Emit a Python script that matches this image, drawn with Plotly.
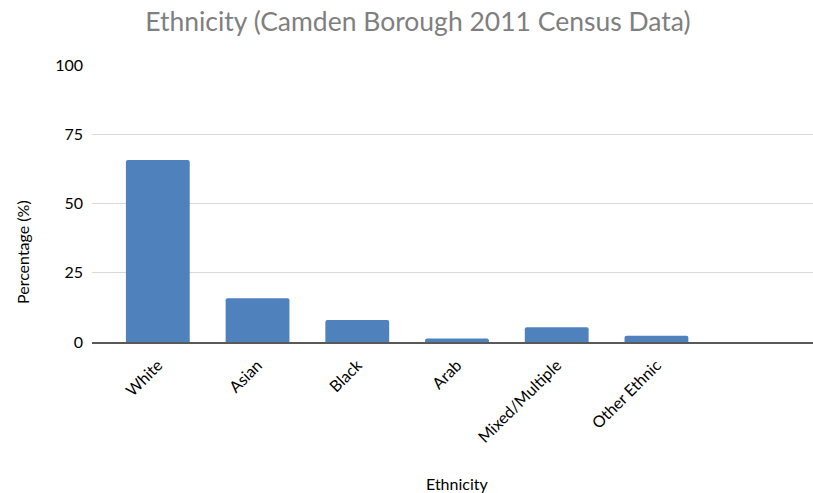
import plotly.graph_objects as go

categories = ["White", "Asian", "Black", "Arab", "Mixed/Multiple", "Other Ethnic"]
values = [65.7, 15.8, 7.9, 1.3, 5.3, 2.3]
y_ticks = [0, 25, 50, 75, 100]

FONT = "Lato"

fig = go.Figure()
fig.add_trace(go.Bar(
    x=list(range(len(categories))),
    y=values,
    marker=dict(color="#4f81bd", cornerradius=2, line=dict(width=0)),
    width=0.64,
))

fig.update_layout(
    width=813, height=493,
    margin=dict(l=92, r=0, t=65, b=151),
    paper_bgcolor="white", plot_bgcolor="white",
    showlegend=False,
    font=dict(family=FONT, size=16, color="#000000"),
    title=dict(text="Ethnicity (Camden Borough 2011 Census Data)",
               x=0.514, xanchor="center", y=0.955, yanchor="middle",
               font=dict(family=FONT, size=26.5, color="#7f7f7f")),
    xaxis=dict(
        range=[-0.66, 6.57],
        tickmode="array",
        tickvals=list(range(len(categories))),
        ticktext=categories,
        tickangle=-45,
        showgrid=False,
        showline=True, linecolor="#595959", linewidth=1.5,
        ticks="", zeroline=False,
        ticklabelstandoff=6,
        tickfont=dict(family=FONT, size=16, color="#000000"),
        fixedrange=True,
    ),
    yaxis=dict(
        range=[0, 100],
        tickmode="array",
        tickvals=y_ticks,
        showgrid=True, gridcolor="#d9d9d9", gridwidth=1,
        zeroline=False, showline=False, ticks="",
        ticklabelstandoff=8,
        tickfont=dict(family=FONT, size=16, color="#000000"),
    ),
)

fig.add_annotation(text="Percentage (%)", xref="paper", yref="paper",
                   x=(22 - 92) / 721, y=(342 - 252) / 277,
                   xanchor="center", yanchor="middle",
                   textangle=-90, showarrow=False,
                   font=dict(family=FONT, size=16, color="#000000"))

fig.add_annotation(text="Ethnicity", xref="paper", yref="paper",
                   x=(457 - 92) / 721, y=-(483 - 342) / 277,
                   xanchor="center", yanchor="middle",
                   showarrow=False,
                   font=dict(family=FONT, size=16, color="#000000"))

fig.write_html("out.html")
